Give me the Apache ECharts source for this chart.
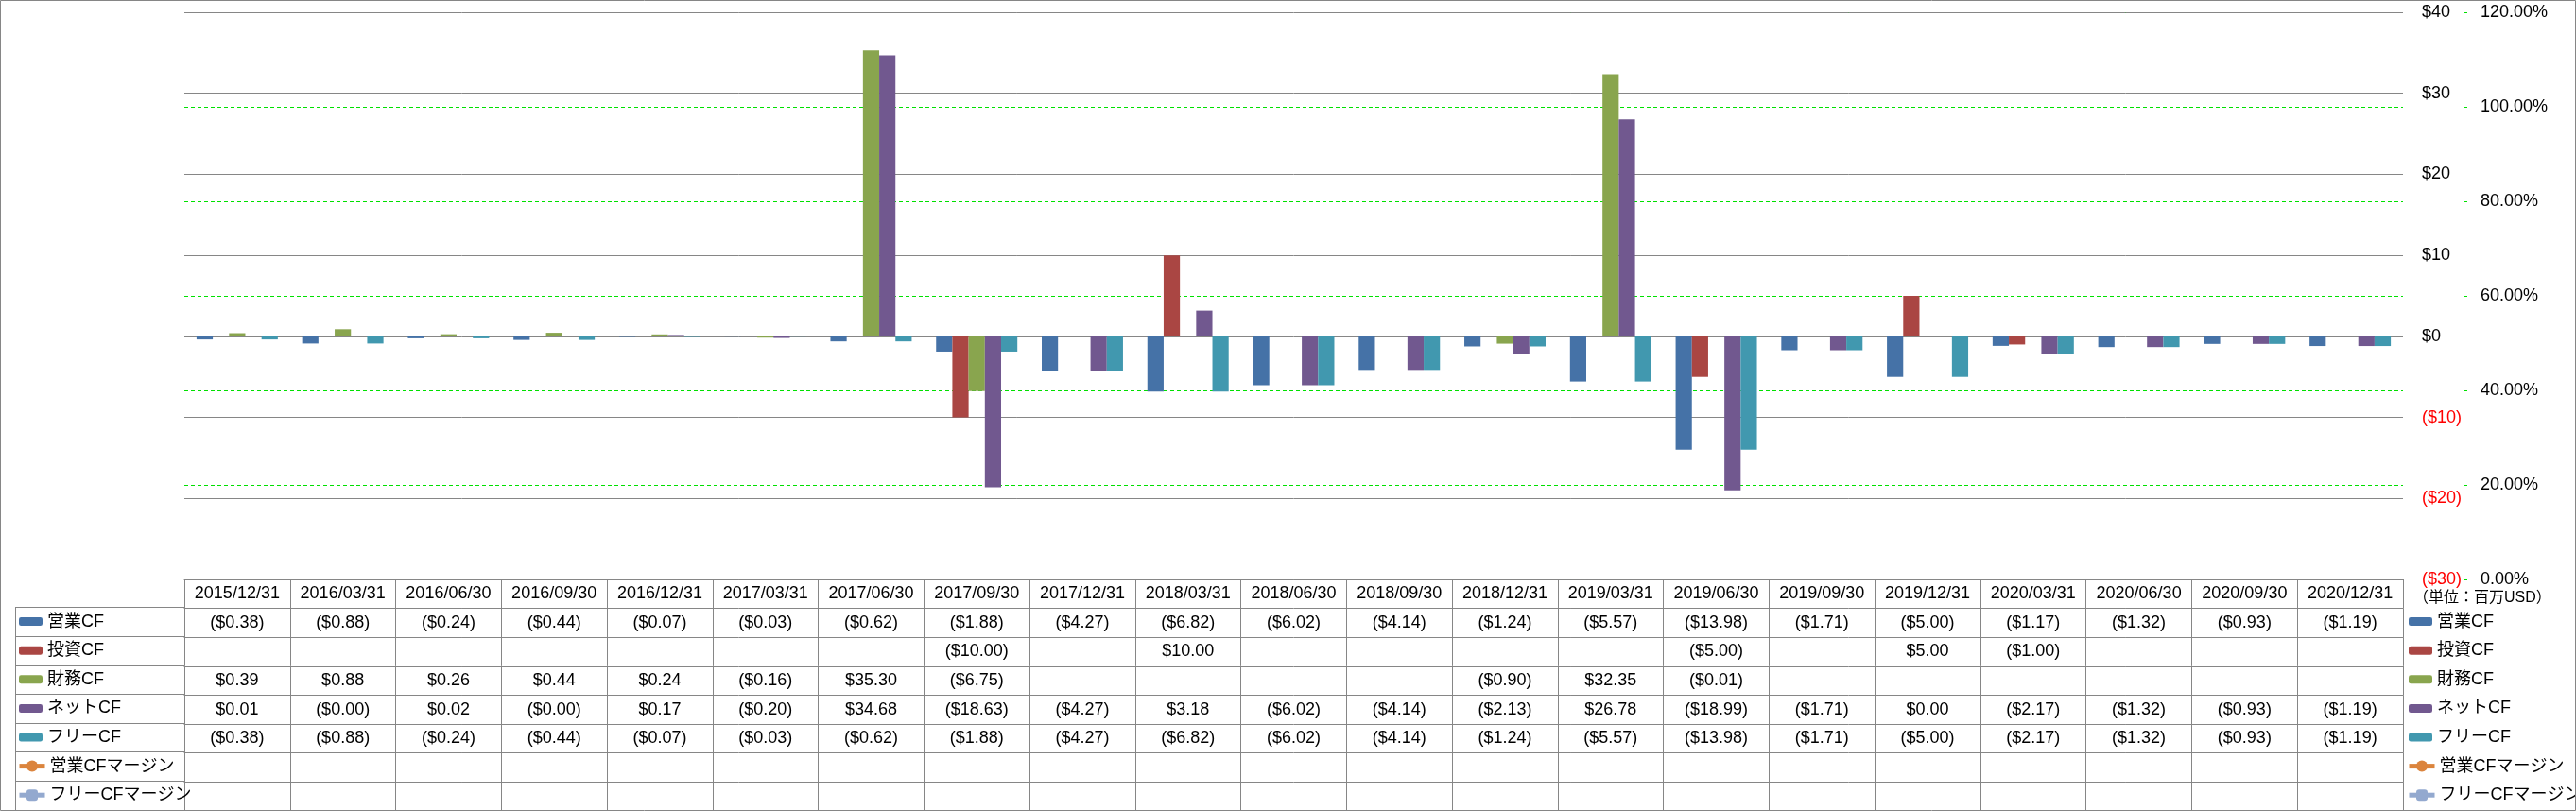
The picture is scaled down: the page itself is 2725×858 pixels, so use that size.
<!DOCTYPE html>
<html><head><meta charset="utf-8">
<script src="https://cdn.jsdelivr.net/npm/echarts@6/dist/echarts.min.js"></script>
<style>html,body{margin:0;padding:0;background:#fff}#c{width:2725px;height:858px}</style>
</head><body><div id="c"></div>
<script>
const categories = ['2015/12/31','2016/03/31','2016/06/30','2016/09/30','2016/12/31','2017/03/31','2017/06/30','2017/09/30','2017/12/31','2018/03/31','2018/06/30','2018/09/30','2018/12/31','2019/03/31','2019/06/30','2019/09/30','2019/12/31','2020/03/31','2020/06/30','2020/09/30','2020/12/31'];
const opCF   = [-0.38,-0.88,-0.24,-0.44,-0.07,-0.03,-0.62,-1.88,-4.27,-6.82,-6.02,-4.14,-1.24,-5.57,-13.98,-1.71,-5.00,-1.17,-1.32,-0.93,-1.19];
const invCF  = [null,null,null,null,null,null,null,-10.00,null,10.00,null,null,null,null,-5.00,null,5.00,-1.00,null,null,null];
const finCF  = [0.39,0.88,0.26,0.44,0.24,-0.16,35.30,-6.75,null,null,null,null,-0.90,32.35,-0.01,null,null,null,null,null,null];
const netCF  = [0.01,-0.003,0.02,-0.003,0.17,-0.20,34.68,-18.63,-4.27,3.18,-6.02,-4.14,-2.13,26.78,-18.99,-1.71,0.00,-2.17,-1.32,-0.93,-1.19];
const freeCF = [-0.38,-0.88,-0.24,-0.44,-0.07,-0.03,-0.62,-1.88,-4.27,-6.82,-6.02,-4.14,-1.24,-5.57,-13.98,-1.71,-5.00,-2.17,-1.32,-0.93,-1.19];
const opMargin = [];
const freeMargin = [];
const dollarTicks = {min:-30, max:40, interval:10};
const pctTicks = {min:0, max:1.2, interval:0.2};

const names = ['営業CF','投資CF','財務CF','ネットCF','フリーCF','営業CFマージン','フリーCFマージン'];
const colors = ['#4572A7','#AA4643','#89A54E','#71588F','#4198AF','#DB843D','#93A9CF'];
const barData = [opCF, invCF, finCF, netCF, freeCF];
const tableRows = [opCF, invCF, finCF, netCF, freeCF, opMargin, freeMargin];
const unitText = '（単位：百万USD）';

const FONT = '"Liberation Sans", "Noto Sans CJK JP", sans-serif';
const GRAY = '#868686';
const GREEN = '#00E000';
const ROW_H = 30.6;

function fmtMoney(v){
  if (v === null || v === undefined) return '';
  return v < 0 ? '($' + Math.abs(v).toFixed(2) + ')' : '$' + v.toFixed(2);
}

const baseX = {
  type:'category', data:categories, gridIndex:0, position:'bottom',
  axisLine:{show:true, onZero:false, lineStyle:{color:GRAY, width:1}},
  axisTick:{show:true, interval:0, length:ROW_H, lineStyle:{color:GRAY, width:1}},
  splitLine:{show:false},
  axisPointer:{show:false}
};
const xAxes = [Object.assign({}, baseX, {
  offset:0,
  axisLabel:{interval:0, margin:ROW_H/2, verticalAlign:'middle', fontSize:18, color:'#000', fontFamily:FONT}
})];
tableRows.forEach((arr, k) => {
  xAxes.push(Object.assign({}, baseX, {
    offset: ROW_H*(k+1),
    axisLabel:{interval:0, margin:ROW_H/2, verticalAlign:'middle', fontSize:18, color:'#000', fontFamily:FONT,
      formatter:(v, i) => fmtMoney(arr[i])}
  }));
});
xAxes.push({type:'value', gridIndex:1, show:false});

const series = [];
barData.forEach((d, i) => {
  series.push({name:names[i], type:'bar', xAxisIndex:0, yAxisIndex:1, data:d,
    itemStyle:{color:colors[i]}, barGap:'0%', barCategoryGap:'23.08%'});
});
series.push({name:names[5], type:'line', xAxisIndex:0, yAxisIndex:0, data:opMargin,
  itemStyle:{color:colors[5]}, lineStyle:{color:colors[5], width:5}, symbol:'circle', symbolSize:12});
series.push({name:names[6], type:'line', xAxisIndex:0, yAxisIndex:0, data:freeMargin,
  itemStyle:{color:colors[6]}, lineStyle:{color:colors[6], width:5}, symbol:'roundRect', symbolSize:12});

const legendText = {fontSize:18, lineHeight:20, color:'#000', fontFamily:FONT};
function mkLegend(left, top, data, ih, iw){
  return {data:data, orient:'vertical', left:left, top:top, itemGap:ROW_H-20, itemWidth:iw, itemHeight:ih,
    padding:0, selectedMode:false, textStyle:legendText, lineStyle:{width:5}};
}

const option = {
  animation:false,
  backgroundColor:'#fff',
  textStyle:{fontFamily:FONT},
  grid:[
    {left:195, right:183, top:13, bottom:245},
    {left:16, top:612+ROW_H, width:179, height:ROW_H*7}
  ],
  title:{text:unitText, left:2553, top:625, padding:0,
    textStyle:{fontSize:16, fontWeight:'normal', color:'#000', fontFamily:FONT}},
  legend:[
    mkLegend(20, 612+ROW_H+5, names.slice(0,5), 9, 25),
    mkLegend(18, 612+ROW_H*6+5, names.slice(5), 15, 27),
    mkLegend(2548, 612+ROW_H+5, names.slice(0,5), 9, 25),
    mkLegend(2546, 612+ROW_H*6+5, names.slice(5), 15, 27)
  ],
  xAxis:xAxes,
  yAxis:[
    {type:'value', gridIndex:0, position:'right', offset:64,
      min:pctTicks.min, max:pctTicks.max, interval:pctTicks.interval,
      axisLine:{show:true, lineStyle:{color:GREEN, type:[4,3], width:1}},
      axisTick:{show:true, length:4, lineStyle:{color:GREEN, width:1}},
      splitLine:{show:true, lineStyle:{color:GREEN, type:[4,3], width:1}},
      axisLabel:{margin:18, fontSize:18, color:'#000', fontFamily:FONT,
        formatter:v => (v*100).toFixed(2) + '%'}},
    {type:'value', gridIndex:0, position:'right', offset:0,
      min:dollarTicks.min, max:dollarTicks.max, interval:dollarTicks.interval,
      axisLine:{show:false}, axisTick:{show:false},
      splitLine:{show:true, lineStyle:{color:GRAY, width:1}},
      axisLabel:{margin:20, fontSize:18, fontFamily:FONT,
        color:v => (v < 0 ? '#FF0000' : '#000'),
        formatter:v => (v < 0 ? '($' + Math.abs(v) + ')' : '$' + v)}},
    {type:'category', gridIndex:1, data:names,
      axisLine:{show:true, lineStyle:{color:GRAY, width:1}},
      axisTick:{show:false}, axisLabel:{show:false},
      splitLine:{show:true, interval:0, lineStyle:{color:GRAY, width:1}}}
  ],
  graphic:[{type:'rect', silent:true, z:100,
    shape:{x:0.5, y:0.5, width:2724, height:857},
    style:{fill:'none', stroke:GRAY, lineWidth:1}}],
  series:series
};
const chart = echarts.init(document.getElementById('c'), null, {renderer:'canvas'});
chart.setOption(option);
</script>
</body></html>
